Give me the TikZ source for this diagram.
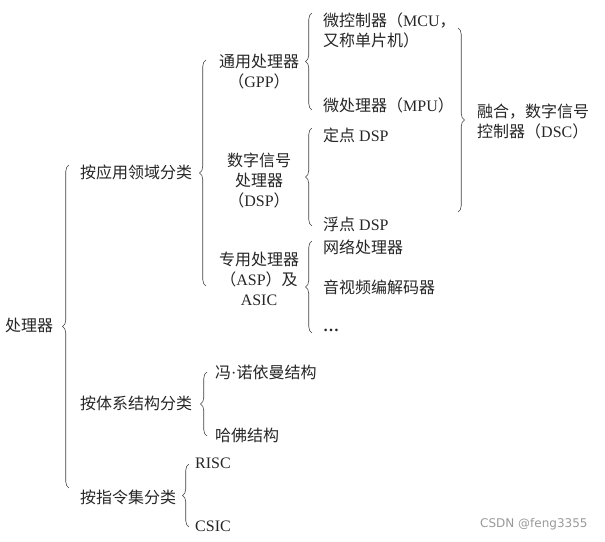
\documentclass[tikz,border=0pt]{standalone}
\usepackage{fontspec}
\setmainfont{Liberation Serif}
\newfontfamily\cjk{Noto Sans CJK SC}
\newfontfamily\wmfont{DejaVu Sans}
\usetikzlibrary{decorations.pathreplacing}
\begin{document}
\begin{tikzpicture}[x=1pt,y=1pt,
  txt/.style={inner sep=0pt, text=black!85, font=\fontsize{16}{20}\selectfont},
  lft/.style={txt, anchor=west, align=left},
  ctr/.style={txt, anchor=center, align=center},
  brc/.style={decorate, decoration={brace, amplitude=6.5pt}, draw=black!75, line width=0.6pt},
  wm/.style={inner sep=0pt, anchor=west, text=black!40, font=\wmfont\fontsize{12}{14}\selectfont}]
\useasboundingbox (0,0) rectangle (605,-541);
% text nodes
\node[lft] (root) at (5,-325) {\cjk 处理器};
\node[lft] (a1) at (80,-172) {\cjk 按应用领域分类};
\node[lft] (a2) at (80,-403) {\cjk 按体系结构分类};
\node[lft] (a3) at (80,-497) {\cjk 按指令集分类};
\node[ctr] (gpp) at (259,-72) {{\cjk 通用处理器}\\{\cjk （}GPP{\cjk ）}};
\node[ctr] (dsp) at (259,-180) {{\cjk 数字信号}\\{\cjk 处理器}\\{\cjk （}DSP{\cjk ）}};
\node[ctr] (asp) at (259,-279) {{\cjk 专用处理器}\\{\cjk （}ASP{\cjk ）及}\\ASIC};
\node[lft] (mcu) at (323,-30) {{\cjk 微控制器（}MCU{\cjk ，}\\{\cjk 又称单片机）}};
\node[lft] (mpu) at (323,-105) {{\cjk 微处理器（}MPU{\cjk ）}};
\node[lft] (fix) at (323,-135) {{\cjk 定点} DSP};
\node[lft] (flt) at (323,-224) {{\cjk 浮点} DSP};
\node[lft] (net) at (323,-247) {\cjk 网络处理器};
\node[lft] (av) at (323,-287) {\cjk 音视频编解码器};
\node[lft] (dots) at (323,-330) {\textbf{…}};
\node[lft] (dsc) at (477,-121) {{\cjk 融合，数字信号}\\{\cjk 控制器（}DSC{\cjk ）}};
\node[lft] (von) at (215,-372) {{\cjk 冯}·{\cjk 诺依曼结构}};
\node[lft] (har) at (215,-435) {\cjk 哈佛结构};
\node[lft] (risc) at (195,-463) {RISC};
\node[lft] (csic) at (195,-526) {CSIC};
\node[wm] (mark) at (480,-524) {CSDN @feng3355};
% brace end points
\coordinate (b0t) at (69,-165);  \coordinate (b0b) at (69,-488);
\coordinate (b1t) at (206,-60);  \coordinate (b1b) at (206,-286);
\coordinate (bgt) at (312,-13);  \coordinate (bgb) at (312,-110);
\coordinate (bdt) at (312,-128); \coordinate (bdb) at (312,-226);
\coordinate (bat) at (312,-241); \coordinate (bab) at (312,-333);
\coordinate (brt) at (458,-28);  \coordinate (brb) at (458,-212);
\coordinate (b2t) at (207,-372); \coordinate (b2b) at (207,-436);
\coordinate (b3t) at (189,-464); \coordinate (b3b) at (189,-527);
% braces
\draw[brc] (b0b) -- (b0t);
\draw[brc] (b1b) -- (b1t);
\draw[brc] (bgb) -- (bgt);
\draw[brc] (bdb) -- (bdt);
\draw[brc] (bab) -- (bat);
\draw[brc] (brt) -- (brb);
\draw[brc] (b2b) -- (b2t);
\draw[brc] (b3b) -- (b3t);
\end{tikzpicture}
\end{document}
